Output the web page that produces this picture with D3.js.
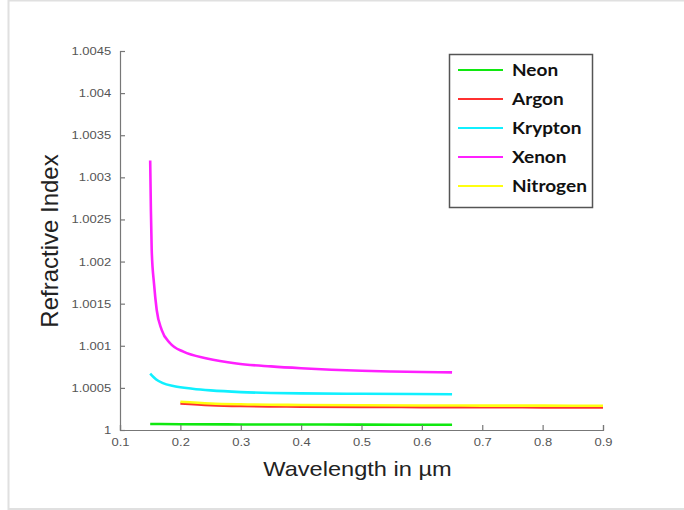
<!DOCTYPE html>
<html lang="en">
<head>
<meta charset="UTF-8">
<title>Refractive Index</title>
<script src="https://d3js.org/d3.v7.min.js"></script>
<style>
    body { margin: 0; background: #fff; }
    svg { display: block; }
    .tick text { font-family: "Liberation Sans", Arial, sans-serif; font-size: 11px; fill: #555; }
    .domain, .tick line { stroke: #777; stroke-width: 1.2; }
</style>
</head>
<body>
<script>
    // series data (wavelength in um, refractive index)
    const neonWl = [0.15, 0.2, 0.3, 0.4, 0.5, 0.65]
    const neonN = [1.000072, 1.000068, 1.000066, 1.000065, 1.000064, 1.000062]

    const argonWl = [0.2, 0.25, 0.3, 0.4, 0.5, 0.6, 0.7, 0.8, 0.9]
    const argonN = [1.000315, 1.000295, 1.000285, 1.000278, 1.000274, 1.000272, 1.00027, 1.000269, 1.000268]

    const kryptonWl = [0.15, 0.16, 0.17, 0.19, 0.22, 0.25, 0.3, 0.35, 0.4, 0.5, 0.65]
    const kryptonN = [1.00067, 1.0006, 1.00056, 1.00052, 1.00049, 1.00047, 1.00045, 1.00044, 1.000435, 1.00043, 1.000425]

    const xenonWl = [0.15, 0.1512, 0.1525, 0.1563, 0.1608, 0.169, 0.183, 0.205, 0.244, 0.293, 0.35, 0.4, 0.45, 0.5, 0.55, 0.6, 0.65]
    const xenonN = [1.0032, 1.0026, 1.00214, 1.00174, 1.001425, 1.00119, 1.00103, 1.00093, 1.00085, 1.00079, 1.000755, 1.000733, 1.000716, 1.000704, 1.000695, 1.000689, 1.000684]

    const nitrogenWl = [0.2, 0.25, 0.3, 0.4, 0.5, 0.6, 0.7, 0.8, 0.9]
    const nitrogenN = [1.000335, 1.000315, 1.000305, 1.000297, 1.000293, 1.000291, 1.00029, 1.000289, 1.000288]

    const names = ["Neon", "Argon", "Krypton", "Xenon", "Nitrogen"]
    const colors = ["#10e810", "#ff3030", "#10f0ff", "#ff20ff", "#ffff10"]
    const xTicks = [0.1, 0.2, 0.3, 0.4, 0.5, 0.6, 0.7, 0.8, 0.9]
    const yTicks = [1, 1.0005, 1.001, 1.0015, 1.002, 1.0025, 1.003, 1.0035, 1.004, 1.0045]

    const series = [
        { name: "Neon", wl: neonWl, n: neonN },
        { name: "Argon", wl: argonWl, n: argonN },
        { name: "Krypton", wl: kryptonWl, n: kryptonN },
        { name: "Xenon", wl: xenonWl, n: xenonN },
        { name: "Nitrogen", wl: nitrogenWl, n: nitrogenN }
    ]

    const width = 684
    const height = 510
    const stretch = 1.18 // text in the picture is a bit wide

    let svg = d3.select("body").append("svg")
        .attr("width", width)
        .attr("height", height)

    // light frame round the figure
    svg.append("rect")
        .attr("x", 8.5).attr("y", 0.5)
        .attr("width", width + 10).attr("height", 508.5)
        .attr("fill", "none")
        .attr("stroke", "#e0e0e0")
        .attr("stroke-width", 2)

    let x = d3.scaleLinear().domain([0.1, 0.9]).range([120, 603])
    let y = d3.scaleLinear().domain([1, 1.0045]).range([430, 51])
    let color = d3.scaleOrdinal().domain(names).range(colors)

    let line = d3.line()
        .x(d => x(d[0]))
        .y(d => y(d[1]))
        .curve(d3.curveMonotoneX)

    svg.append("g")
        .selectAll("path")
        .data(series)
        .enter()
        .append("path")
        .attr("d", d => line(d.wl.map((w, i) => [w, d.n[i]])))
        .attr("fill", "none")
        .attr("stroke", d => color(d.name))
        .attr("stroke-width", 2.6)

    // axes, MATLAB style inward ticks
    let xAxis = svg.append("g")
        .attr("transform", `translate(0,${y(1)})`)
        .call(d3.axisBottom(x).tickValues(xTicks).tickSize(-5).tickPadding(8).tickFormat(d => String(+d.toFixed(1))))
    xAxis.selectAll("text").attr("transform", `scale(${stretch},1)`)

    let yAxis = svg.append("g")
        .attr("transform", `translate(${x(0.1)},0)`)
        .call(d3.axisLeft(y).tickValues(yTicks).tickSize(-5).tickPadding(7.5).tickFormat(d => String(+d.toFixed(4))))
    yAxis.selectAll("text").attr("transform", `scale(${stretch},1)`)

    svg.append("text")
        .attr("transform", `translate(${(x(0.1) + x(0.9)) / 2 - 4},476) scale(${stretch},1)`)
        .attr("text-anchor", "middle")
        .style("font-family", "Liberation Sans, Arial, sans-serif")
        .style("font-size", "20px")
        .style("fill", "#222")
        .text("Wavelength in \u00b5m")

    svg.append("text")
        .attr("transform", "translate(58,241) rotate(-90)")
        .attr("text-anchor", "middle")
        .style("font-family", "Liberation Sans, Arial, sans-serif")
        .style("font-size", "24px")
        .style("fill", "#222")
        .text("Refractive Index")

    // legend
    let legend = svg.append("g")
    legend.append("rect")
        .attr("x", 449.5).attr("y", 54.5)
        .attr("width", 143).attr("height", 153)
        .attr("fill", "#fff")
        .attr("stroke", "#555")
        .attr("stroke-width", 1.5)

    let rowY = d3.scalePoint().domain(names).range([70, 186])
    let rows = legend.selectAll(".row")
        .data(names)
        .enter()
        .append("g")
        .attr("transform", d => `translate(0,${rowY(d)})`)
    rows.append("line")
        .attr("x1", 458).attr("x2", 503)
        .attr("stroke", d => color(d))
        .attr("stroke-width", 2.2)
    rows.append("text")
        .attr("transform", `translate(512,6) scale(1.12,1)`)
        .style("font-family", "Lato, sans-serif")
        .style("font-weight", "bold")
        .style("font-size", "17px")
        .style("fill", "#111")
        .text(d => d)
</script>
</body>
</html>
